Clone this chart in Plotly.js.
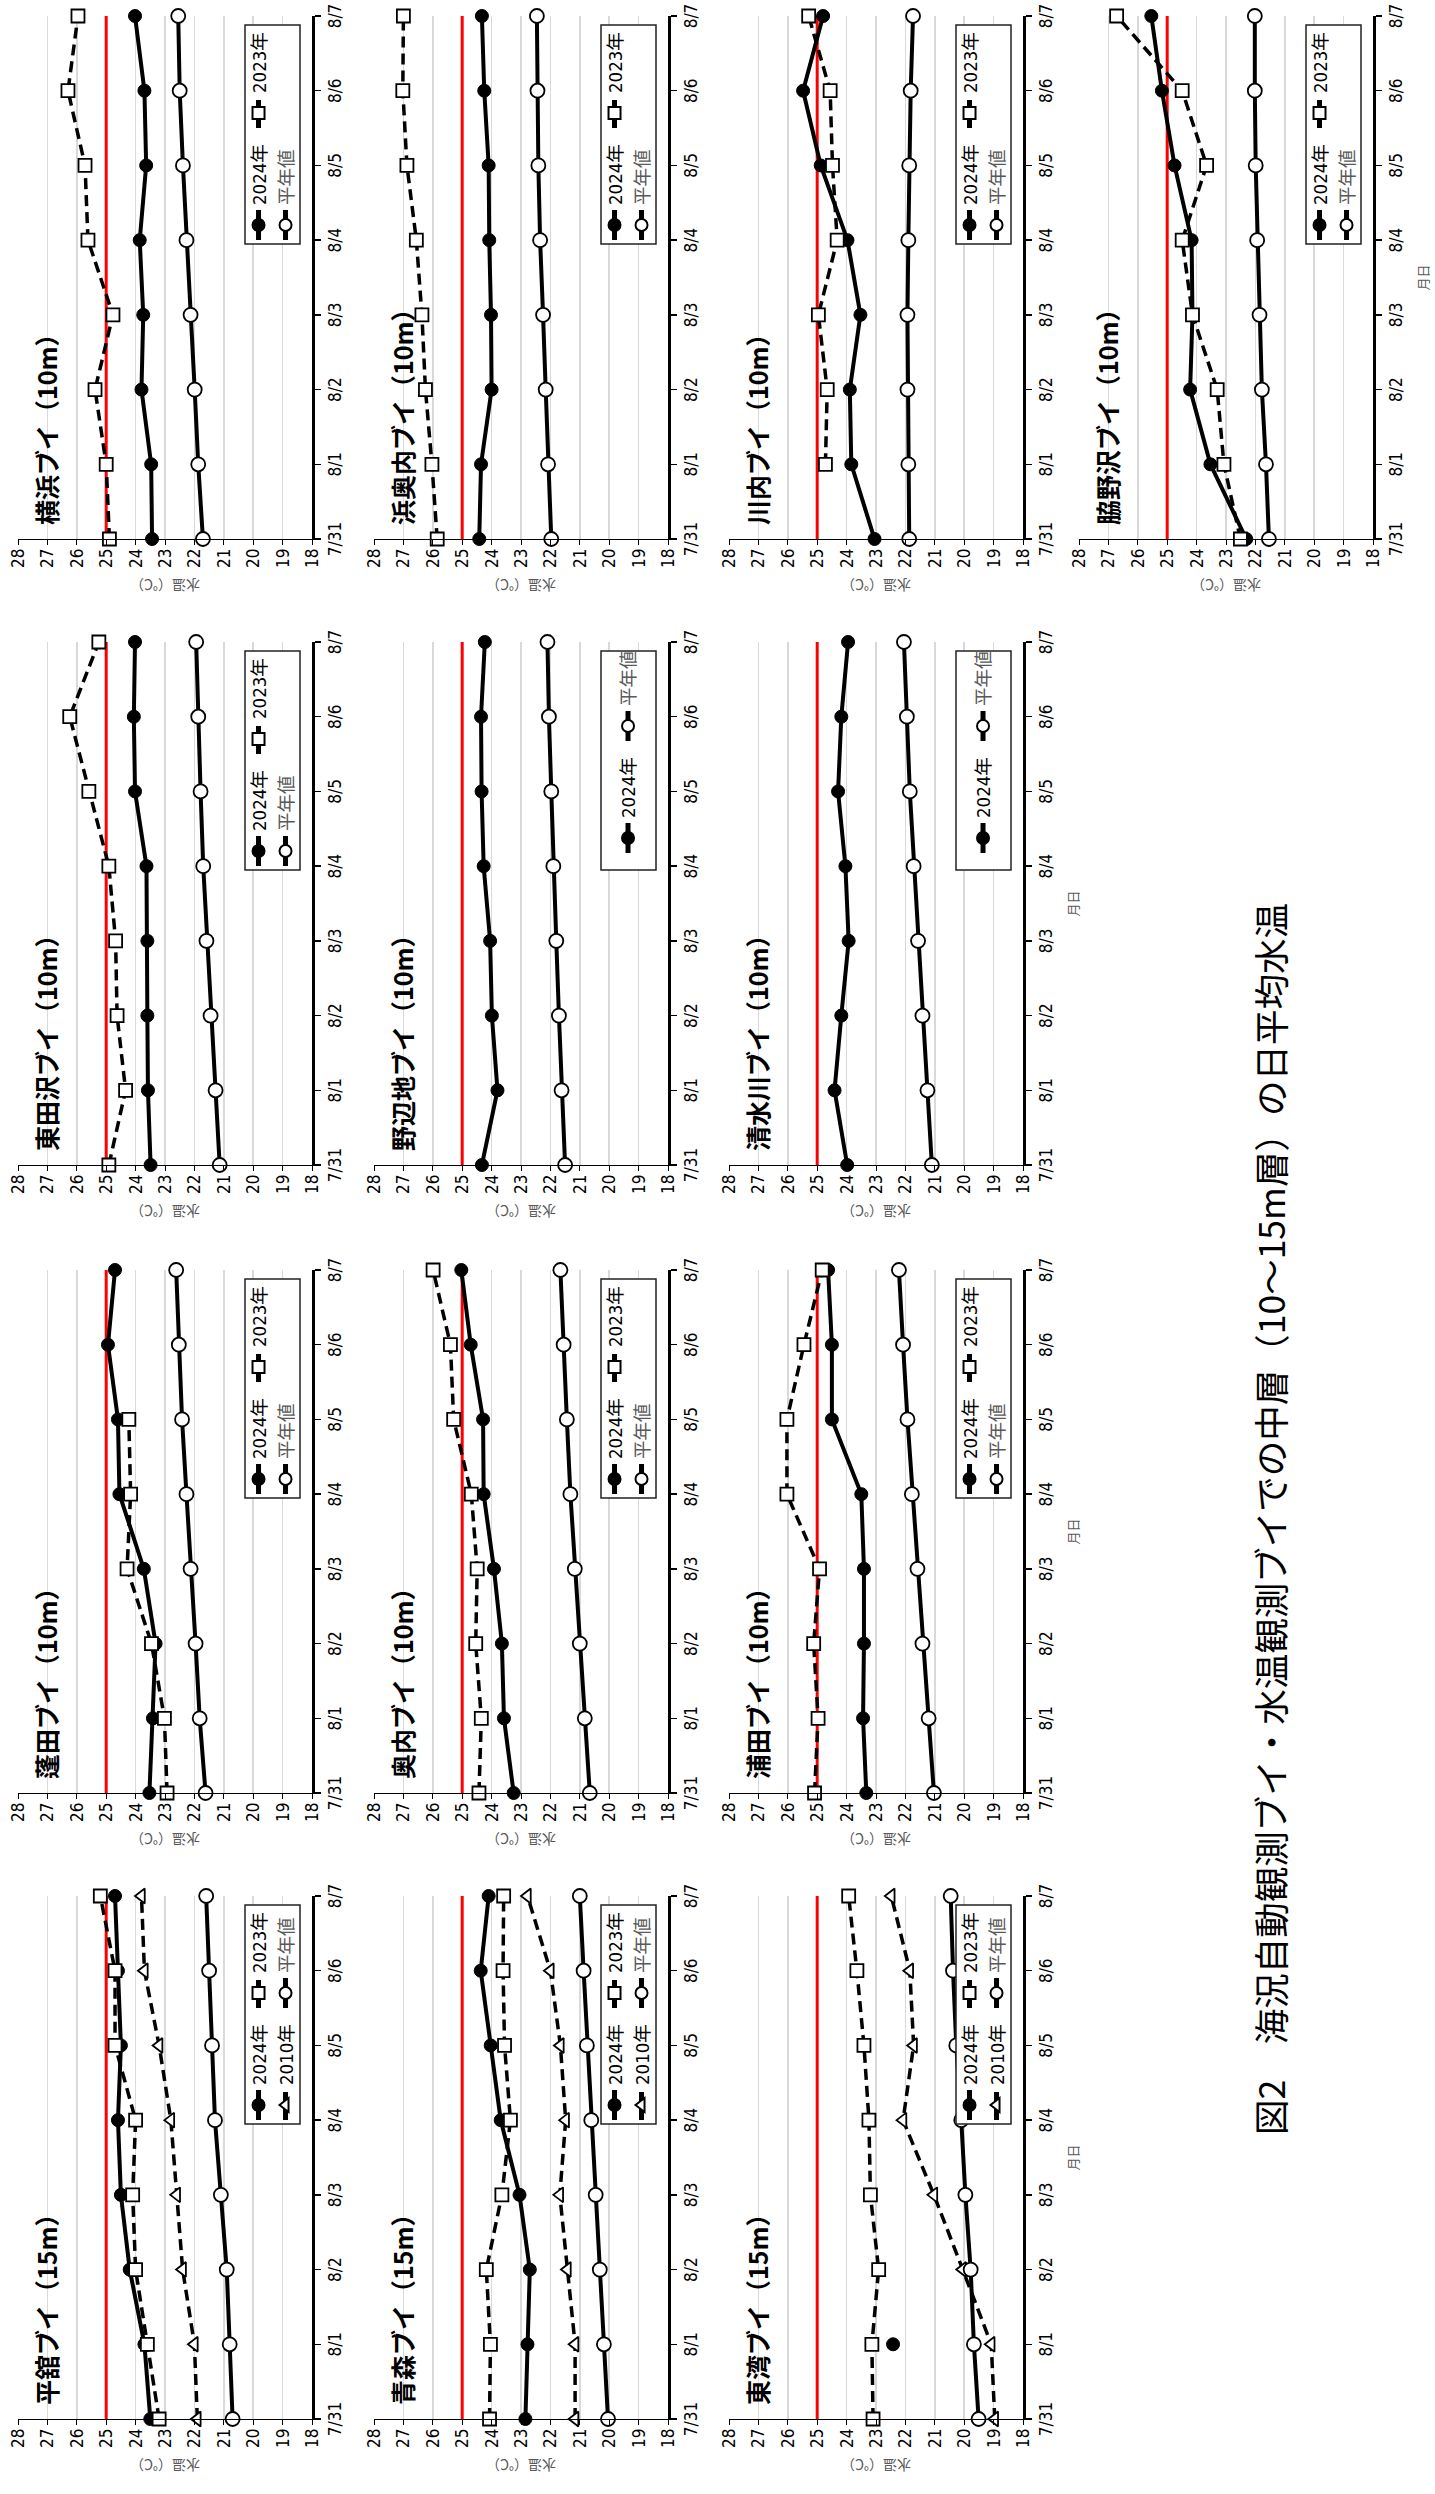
<!DOCTYPE html>
<html><head><meta charset="utf-8">
<script src="https://cdn.plot.ly/plotly-3.0.1.min.js"></script>
<style>
html,body{margin:0;padding:0;width:1435px;height:2494px;overflow:hidden;background:#fff;}
#page{position:absolute;left:0;top:0;width:2494px;height:1435px;transform-origin:0 0;transform:translate(0px,2494px) rotate(-90deg);}
</style></head><body><div id="page"></div>
<script>
// ---------- data ----------
const dates = ['7/31','8/1','8/2','8/3','8/4','8/5','8/6','8/7'];
const threshold = 25;

const hiradate2024 = [23.5, 23.7, 24.2, 24.5, 24.6, 24.5, 24.6, 24.7];
const hiradate2023 = [23.2, 23.6, 24.0, 24.1, 24.0, 24.7, 24.7, 25.2];
const hiradate2010 = [21.9, 22.0, 22.4, 22.6, 22.8, 23.2, 23.7, 23.8];
const hiradateNormal = [20.7, 20.8, 20.9, 21.1, 21.3, 21.4, 21.5, 21.6];

const aomori2024 = [22.85, 22.78, 22.7, 23.05, 23.69, 24.03, 24.37, 24.1];
const aomori2023 = [24.07, 24.04, 24.18, 23.65, 23.36, 23.56, 23.61, 23.59];
const aomori2010 = [21.16, 21.16, 21.42, 21.68, 21.48, 21.66, 22.0, 22.78];
const aomoriNormal = [20.04, 20.18, 20.32, 20.46, 20.61, 20.76, 20.87, 21.0];

const towan2024 = [null, 22.42, null, null, null, null, null, null];
const towan2023 = [23.1, 23.14, 22.91, 23.19, 23.24, 23.41, 23.65, 23.93];
const towan2010 = [18.96, 19.08, 20.05, 21.03, 22.08, 21.72, 21.85, 22.48];
const towanNormal = [19.51, 19.67, 19.78, 19.96, 20.1, 20.27, 20.38, 20.46];

const yomogita2024 = [23.53, 23.41, 23.32, 23.72, 24.55, 24.6, 24.94, 24.7];
const yomogita2023 = [22.93, 23.02, 23.46, 24.29, 24.17, 24.23, null, null];
const yomogitaNormal = [21.62, 21.82, 21.96, 22.13, 22.27, 22.42, 22.53, 22.62];

const okunai2024 = [23.25, 23.58, 23.65, 23.92, 24.27, 24.29, 24.71, 25.03];
const okunai2023 = [24.43, 24.35, 24.54, 24.49, 24.69, 25.29, 25.4, 25.99];
const okunaiNormal = [20.66, 20.83, 21.0, 21.17, 21.32, 21.44, 21.55, 21.66];

const urata2024 = [23.33, 23.44, 23.41, 23.41, 23.5, 24.5, 24.5, 24.63];
const urata2023 = [25.09, 24.97, 25.12, 24.92, 26.03, 26.03, 25.45, 24.83];
const urataNormal = [21.03, 21.21, 21.42, 21.59, 21.78, 21.93, 22.08, 22.22];

const higashitazawa2024 = [23.49, 23.58, 23.6, 23.6, 23.63, 24.02, 24.06, 24.02];
const higashitazawa2023 = [24.91, 24.34, 24.63, 24.68, 24.91, 25.59, 26.24, 25.25];
const higashitazawaNormal = [21.14, 21.28, 21.45, 21.59, 21.7, 21.79, 21.87, 21.94];

const noheji2024 = [24.33, 23.8, 23.99, 24.05, 24.27, 24.34, 24.36, 24.23];
const nohejiNormal = [21.5, 21.62, 21.71, 21.8, 21.9, 21.97, 22.05, 22.1];

const shimizugawa2024 = [23.98, 24.41, 24.18, 23.93, 24.04, 24.29, 24.18, 23.95];
const shimizugawaNormal = [21.1, 21.25, 21.42, 21.57, 21.72, 21.85, 21.95, 22.05];

const yokohama2024 = [23.44, 23.47, 23.8, 23.74, 23.86, 23.64, 23.7, 24.02];
const yokohama2023 = [24.89, 25.0, 25.38, 24.77, 25.62, 25.72, 26.3, 25.96];
const yokohamaNormal = [21.71, 21.87, 21.99, 22.13, 22.27, 22.39, 22.5, 22.55];

const hamaokunai2024 = [24.42, 24.36, 24.0, 24.02, 24.08, 24.1, 24.25, 24.33];
const hamaokunai2023 = [25.85, 26.03, 26.25, 26.37, 26.56, 26.88, 27.02, 27.0];
const hamaokunaiNormal = [21.97, 22.08, 22.16, 22.25, 22.35, 22.41, 22.44, 22.46];

const kawauchi2024 = [23.05, 23.84, 23.89, 23.53, 23.97, 24.88, 25.48, 24.8];
const kawauchi2023 = [null, 24.72, 24.66, 24.96, 24.32, 24.48, 24.56, 25.29];
const kawauchiNormal = [21.87, 21.9, 21.93, 21.93, 21.9, 21.87, 21.82, 21.74];

const wakinosawa2024 = [22.31, 23.53, 24.22, 24.14, 24.17, 24.75, 25.18, 25.54];
const wakinosawa2023 = [22.51, 23.07, 23.3, 24.14, 24.49, 23.66, 24.49, 26.72];
const wakinosawaNormal = [21.54, 21.64, 21.78, 21.86, 21.94, 21.99, 22.02, 22.02];

const mainTitle = '図2　海況自動観測ブイ・水温観測ブイでの中層（10～15m層）の日平均水温';
const yTitle = '水温（℃）';
const xTitle = '月日';

// panels: grid column / row in the (landscape) page
const panels = [
  {title:'平舘ブイ（15m）', col:0, row:0, s:{'2024年':hiradate2024,'2023年':hiradate2023,'2010年':hiradate2010,'平年値':hiradateNormal}},
  {title:'蓬田ブイ（10m）', col:1, row:0, s:{'2024年':yomogita2024,'2023年':yomogita2023,'平年値':yomogitaNormal}},
  {title:'東田沢ブイ（10m）', col:2, row:0, s:{'2024年':higashitazawa2024,'2023年':higashitazawa2023,'平年値':higashitazawaNormal}},
  {title:'横浜ブイ（10m）', col:3, row:0, s:{'2024年':yokohama2024,'2023年':yokohama2023,'平年値':yokohamaNormal}},
  {title:'青森ブイ（15m）', col:0, row:1, s:{'2024年':aomori2024,'2023年':aomori2023,'2010年':aomori2010,'平年値':aomoriNormal}},
  {title:'奥内ブイ（10m）', col:1, row:1, s:{'2024年':okunai2024,'2023年':okunai2023,'平年値':okunaiNormal}},
  {title:'野辺地ブイ（10m）', col:2, row:1, s:{'2024年':noheji2024,'平年値':nohejiNormal}},
  {title:'浜奥内ブイ（10m）', col:3, row:1, s:{'2024年':hamaokunai2024,'2023年':hamaokunai2023,'平年値':hamaokunaiNormal}},
  {title:'東湾ブイ（15m）', col:0, row:2, xt:true, s:{'2024年':towan2024,'2023年':towan2023,'2010年':towan2010,'平年値':towanNormal}},
  {title:'浦田ブイ（10m）', col:1, row:2, xt:true, s:{'2024年':urata2024,'2023年':urata2023,'平年値':urataNormal}},
  {title:'清水川ブイ（10m）', col:2, row:2, xt:true, s:{'2024年':shimizugawa2024,'平年値':shimizugawaNormal}},
  {title:'川内ブイ（10m）', col:3, row:2, s:{'2024年':kawauchi2024,'2023年':kawauchi2023,'平年値':kawauchiNormal}},
  {title:'脇野沢ブイ（10m）', col:3, row:3, xt:true, s:{'2024年':wakinosawa2024,'2023年':wakinosawa2023,'平年値':wakinosawaNormal}}
];

// ---------- layout geometry (landscape page, px) ----------
const W = 2494, H = 1435;
const colPx = [[75,598],[701,1224],[1329,1852],[1955,2478]];
const rowPx = [[18,312],[374,668],[729,1023],[1079,1373]];

const NUMFONT = '"Liberation Sans Narrow","DejaVu Sans Condensed","Noto Sans CJK JP",sans-serif';
const JPFONT = '"Noto Sans CJK JP",sans-serif';

const styles = {
  '2024年': {line:{color:'#000',width:4}, marker:{symbol:'circle',size:13,color:'#000',line:{color:'#000',width:1}}},
  '2023年': {line:{color:'#000',width:3.5,dash:'11px,6px'}, marker:{symbol:'square',size:13,color:'#fff',line:{color:'#000',width:1.8}}},
  '2010年': {line:{color:'#000',width:3.5,dash:'11px,6px'}, marker:{symbol:'triangle-up',size:13,color:'#fff',line:{color:'#000',width:1.8}}},
  '平年値': {line:{color:'#000',width:4}, marker:{symbol:'circle',size:14,color:'#fff',line:{color:'#000',width:1.8}}}
};
const legendLabel = {'2024年':'2024年','2023年':'2023年','2010年':'2010年','平年値':'<span style="color:#595959">平年値</span>'};

const traces = [];
const layout = {
  width: W, height: H, autosize: false,
  margin: {l:0, r:0, t:0, b:0, pad:0},
  paper_bgcolor: '#fff', plot_bgcolor: '#fff',
  showlegend: true, hovermode: false,
  font: {family: NUMFONT, color:'#000'},
  title: {text: mainTitle, x: 975/W, xanchor:'center', xref:'paper', y: 1-1273/H, yanchor:'middle', yref:'paper',
          font:{family: JPFONT, size: 35.5, color:'#000'}},
  shapes: [], annotations: []
};

let legendCount = 1;
panels.forEach((p, i) => {
  const k = i + 1;
  const sfx = k === 1 ? '' : String(k);
  const [x0, x1] = colPx[p.col];
  const [y0, y1] = rowPx[p.row];
  layout['xaxis' + sfx] = {
    domain: [x0/W, x1/W], anchor: 'y' + sfx, type: 'category',
    categoryorder: 'array', categoryarray: dates, range: [0, dates.length - 1],
    showline: true, linecolor: '#000', linewidth: 2.5,
    ticks: 'outside', ticklen: 6, tickwidth: 1.5, tickcolor: '#000',
    showgrid: false, zeroline: false, fixedrange: true,
    tickfont: {family: NUMFONT, size: 17, color: '#000'},
    title: p.xt ? {text: xTitle, font: {family: JPFONT, size: 13, color: '#595959'}, standoff: 14} : {text: ''}
  };
  layout['yaxis' + sfx] = {
    domain: [1 - y1/H, 1 - y0/H], anchor: 'x' + sfx,
    range: [18, 28], tick0: 18, dtick: 1,
    showline: true, linecolor: '#000', linewidth: 1,
    ticks: 'outside', ticklen: 5, tickwidth: 1, tickcolor: '#000',
    showgrid: true, gridcolor: '#d9d9d9', gridwidth: 1.5, zeroline: false, fixedrange: true,
    tickfont: {family: NUMFONT, size: 17, color: '#000'},
    title: {text: yTitle, font: {family: JPFONT, size: 14, color: '#595959'}, standoff: 8}
  };
  // threshold line (25℃) drawn as a trace: above gridlines, below data
  traces.push({type:'scatter', mode:'lines', x: dates, y: dates.map(() => threshold),
    xaxis:'x' + sfx, yaxis:'y' + sfx, showlegend:false, line:{color:'#ff0000', width:3}, hoverinfo:'skip'});
  // panel title
  layout.annotations.push({text: '<b>' + p.title + '</b>', xref:'x' + sfx + ' domain', yref:'y' + sfx + ' domain',
    x: 0, y: 1, xanchor:'left', yanchor:'middle', xshift: 12, yshift: -28, showarrow:false,
    font:{family: JPFONT, size: 25, color:'#000'}});

  // legend box
  const bRight = x1 - 9, bLeft = bRight - 219, bBottom = y1 - 12, bTop = bBottom - 55;
  layout.shapes.push({type:'rect', xref:'paper', yref:'paper', x0:bLeft/W, x1:bRight/W, y0:1-bBottom/H, y1:1-bTop/H,
    fillcolor:'#fff', line:{color:'#222', width:1.5}, layer:'above'});

  const names = Object.keys(p.s);
  const rows = names.length <= 2 ? [names] : [names.slice(0,2), names.slice(2)];
  const rowIds = rows.map((r, ri) => {
    legendCount += 1;
    const id = 'legend' + legendCount;
    const cy = rows.length === 1 ? (bTop + bBottom)/2 : (ri === 0 ? bTop + 14 : bBottom - 14);
    const lx = rows.length === 1 ? bLeft + 12 : bLeft - 1;
    layout[id] = {x: lx/W, y: 1 - cy/H, xanchor:'left', yanchor:'middle', orientation:'h',
      bgcolor:'rgba(0,0,0,0)', borderwidth:0, entrywidth: 67, entrywidthmode:'pixels',
      itemsizing:'constant', itemclick:false, itemdoubleclick:false,
      font:{family: NUMFONT, size: 18.5, color:'#000'}, tracegroupgap: 0};
    return id;
  });
  names.forEach(n => {
    const ri = rows.findIndex(r => r.includes(n));
    const st = styles[n];
    traces.push({
      type:'scatter', mode:'lines+markers', x: dates, y: p.s[n],
      xaxis:'x' + sfx, yaxis:'y' + sfx, name: legendLabel[n], legend: rowIds[ri],
      line: st.line, marker: st.marker, connectgaps:false, cliponaxis:false, hoverinfo:'skip'
    });
  });
});

Plotly.newPlot('page', traces, layout, {staticPlot:true, displayModeBar:false});
</script></body></html>
